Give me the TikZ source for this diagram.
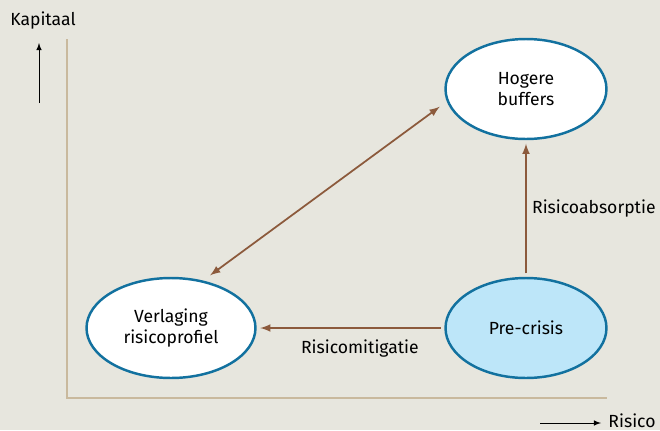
\documentclass[tikz,border=0pt]{standalone}
\usepackage{fontspec}
\setmainfont{Fira Sans}
\usetikzlibrary{arrows, shapes.geometric}

\definecolor{bgtone}{HTML}{E7E6DE}
\definecolor{axistone}{HTML}{C9B99D}
\definecolor{rimblue}{HTML}{12719F}
\definecolor{paleblue}{HTML}{BDE6F9}
\definecolor{flowbrown}{HTML}{8C5A3C}

\begin{document}
\begin{tikzpicture}[x=0.02cm,y=-0.02cm,>=latex,
  font=\fontsize{10}{12}\selectfont,
  phase/.style={ellipse, draw=rimblue, line width=1.4pt, fill=white,
    minimum width=3.22cm, minimum height=2cm, align=center, inner sep=0pt},
  flow/.style={draw=flowbrown, line width=1pt, shorten >=2pt, shorten <=2pt}]

% background and axes
  \useasboundingbox (0,0) rectangle (660,430);
  \fill[bgtone] (0,0) rectangle (660,430);
  \draw[axistone, line width=1.7pt] (67,39) -- (67,398) -- (607,398);

% define the axis labels
  \node (kap) at (43,21) {Kapitaal};
  \coordinate (kapfoot) at (39,103);
  \coordinate (kaptop)  at (39,43);
  \draw[->, thin] (kapfoot) -- (kaptop);

  \node (ris) at (632,421) {Risico};
  \coordinate (risstart) at (540,423);
  \coordinate (risend)   at (601,423);
  \draw[->, thin] (risstart) -- (risend);

% define the states
  \node[phase, fill=paleblue] (pre) at (526,328) {Pre-crisis};
  \node[phase]                (hog) at (526,89)  {Hogere\\buffers};
  \node[phase, minimum width=3.38cm] (verl) at (171,328) {Verlaging\\risicoprofiel};

% define the links
  \path[->] (pre) edge[flow] node[pos=0.45, below=3pt] {Risicomitigatie} (verl)
            (pre) edge[flow] node[right=2pt, inner sep=1pt] {Risicoabsorptie} (hog);
  \path[<->] (verl.56) edge[flow, shorten >=5pt, shorten <=5pt] (hog.189);

\end{tikzpicture}
\end{document}
